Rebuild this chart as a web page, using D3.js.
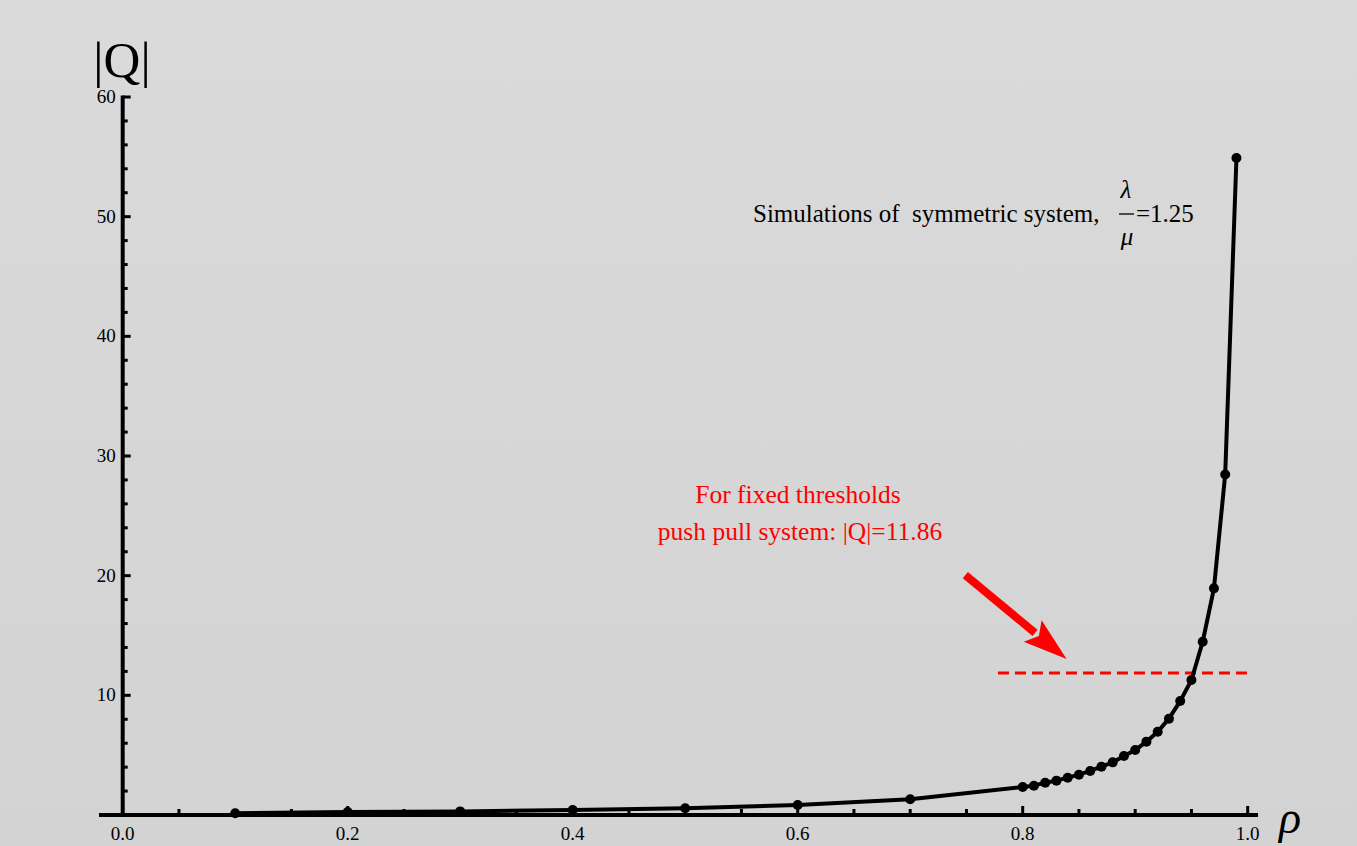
<!DOCTYPE html>
<html>
<head>
<meta charset="utf-8">
<script src="https://cdn.jsdelivr.net/npm/d3@7"></script>
<style>
  body { margin: 0; }
  svg { display: block; }
  text { font-family: "Liberation Serif", "DejaVu Serif", serif; white-space: pre; }
</style>
</head>
<body>
<div id="chart"></div>
<script>
// simulated |Q| vs rho
var rho = [0.1, 0.2, 0.3, 0.4, 0.5, 0.6, 0.7, 0.8, 0.81, 0.82, 0.83, 0.84, 0.85, 0.86, 0.87,
  0.88, 0.89, 0.9, 0.91, 0.92, 0.93, 0.94, 0.95, 0.96, 0.97, 0.98, 0.99];
var qSize = [0.14, 0.25, 0.3, 0.42, 0.56, 0.84, 1.31, 2.34, 2.45, 2.7, 2.87, 3.12, 3.37, 3.68, 4.04,
  4.4, 4.93, 5.43, 6.13, 6.96, 8.05, 9.52, 11.28, 14.48, 18.94, 28.46, 54.9];
var xTicks = [0, 0.2, 0.4, 0.6, 0.8, 1.0];
var yTicks = [10, 20, 30, 40, 50, 60];
var threshold = 11.86;

var svgWidth = 1357;
var svgHeight = 846;

var svg = d3.select("#chart")
  .append("svg")
  .attr("width", svgWidth)
  .attr("height", svgHeight);

var grad = svg.append("defs").append("linearGradient")
  .attr("id", "bg").attr("x1", 0).attr("y1", 0).attr("x2", 0).attr("y2", 1);
grad.append("stop").attr("offset", "0%").attr("stop-color", "#dadada");
grad.append("stop").attr("offset", "100%").attr("stop-color", "#d3d3d3");

svg.append("rect")
  .attr("width", svgWidth).attr("height", svgHeight)
  .attr("fill", "url(#bg)");

var x = d3.scaleLinear().domain([0, 1]).range([122.7, 1247.7]);
var y = d3.scaleLinear().domain([0, 60]).range([815, 97]);

var data = rho.map((r, i) => ({ r: r, q: qSize[i] }));

// axes
var xAxis = svg.append("g").attr("transform", "translate(0,815)");
xAxis.append("line")
  .attr("x1", 99).attr("x2", 1258)
  .attr("stroke", "black").attr("stroke-width", 4);
xAxis.selectAll(".minor")
  .data(d3.range(0, 1.001, 0.05))
  .enter().append("line")
  .attr("x1", d => x(d)).attr("x2", d => x(d))
  .attr("y1", 0).attr("y2", d => Math.abs(d * 5 - Math.round(d * 5)) < 1e-6 ? -9 : -6)
  .attr("stroke", "black").attr("stroke-width", 3);
xAxis.selectAll(".lbl")
  .data(xTicks)
  .enter().append("text")
  .attr("x", d => x(d)).attr("y", 25)
  .attr("text-anchor", "middle")
  .attr("font-size", 19)
  .text(d => d.toFixed(1));

var yAxis = svg.append("g").attr("transform", "translate(122.7,0)");
yAxis.append("line")
  .attr("y1", 815).attr("y2", 95.5)
  .attr("stroke", "black").attr("stroke-width", 4);
yAxis.selectAll(".minor")
  .data(d3.range(2, 60.5, 2))
  .enter().append("line")
  .attr("y1", d => y(d)).attr("y2", d => y(d))
  .attr("x1", 0).attr("x2", d => d % 10 === 0 ? 8 : 5)
  .attr("stroke", "black").attr("stroke-width", 3);
yAxis.selectAll(".lbl")
  .data(yTicks)
  .enter().append("text")
  .attr("x", -7).attr("y", d => y(d) + 6)
  .attr("text-anchor", "end")
  .attr("font-size", 19)
  .text(d => d);

// axis titles
svg.append("text")
  .attr("x", 122).attr("y", 77)
  .attr("text-anchor", "middle")
  .attr("font-size", 51)
  .text("|Q|");
svg.append("text")
  .attr("x", 1290).attr("y", 833)
  .attr("text-anchor", "middle")
  .attr("font-size", 46)
  .attr("font-style", "italic")
  .text("ρ");

// threshold line
svg.append("line")
  .attr("x1", x(0.778)).attr("x2", x(1.003))
  .attr("y1", y(threshold)).attr("y2", y(threshold))
  .attr("stroke", "red").attr("stroke-width", 3)
  .attr("stroke-dasharray", "11,6");

// curve
var line = d3.line().x(d => x(d.r)).y(d => y(d.q));
svg.append("path")
  .datum(data)
  .attr("d", line)
  .attr("fill", "none")
  .attr("stroke", "black")
  .attr("stroke-width", 4)
  .attr("stroke-linejoin", "round");

svg.selectAll(".pt")
  .data(data)
  .enter().append("circle")
  .attr("cx", d => x(d.r))
  .attr("cy", d => y(d.q))
  .attr("r", 5)
  .attr("fill", "black");

// arrow
var tail = [x(0.749), y(20.05)];
var tip = [x(0.839), y(13.03)];
var ang = Math.atan2(tip[1] - tail[1], tip[0] - tail[0]);
var headLen = 44, headW = 14;
var bx = tip[0] - headLen * Math.cos(ang), by = tip[1] - headLen * Math.sin(ang);
var nx = -Math.sin(ang), ny = Math.cos(ang);
svg.append("line")
  .attr("x1", tail[0]).attr("y1", tail[1])
  .attr("x2", bx + 3 * Math.cos(ang)).attr("y2", by + 3 * Math.sin(ang))
  .attr("stroke", "red").attr("stroke-width", 8);
svg.append("path")
  .attr("d", `M${tip[0]},${tip[1]}L${bx + nx * headW},${by + ny * headW}L${bx + 8 * Math.cos(ang)},${by + 8 * Math.sin(ang)}L${bx - nx * headW},${by - ny * headW}Z`)
  .attr("fill", "red");

// annotations
svg.append("text")
  .attr("x", 798).attr("y", 503)
  .attr("text-anchor", "middle")
  .attr("font-size", 25.5)
  .attr("fill", "red")
  .text("For fixed thresholds");
svg.append("text")
  .attr("x", 800).attr("y", 540)
  .attr("text-anchor", "middle")
  .attr("font-size", 25.5)
  .attr("fill", "red")
  .text("push pull system: |Q|=11.86");

var ann = svg.append("g").attr("font-size", 25);
ann.append("text")
  .attr("x", 753).attr("y", 222)
  .text("Simulations of  symmetric system,");
ann.append("text")
  .attr("x", 1126).attr("y", 198)
  .attr("text-anchor", "middle")
  .attr("font-style", "italic")
  .text("λ");
ann.append("line")
  .attr("x1", 1119).attr("x2", 1134)
  .attr("y1", 214).attr("y2", 214)
  .attr("stroke", "black").attr("stroke-width", 1.3);
ann.append("text")
  .attr("x", 1127).attr("y", 245)
  .attr("text-anchor", "middle")
  .attr("font-style", "italic")
  .text("μ");
ann.append("text")
  .attr("x", 1136).attr("y", 222)
  .text("=1.25");
</script>
</body>
</html>
